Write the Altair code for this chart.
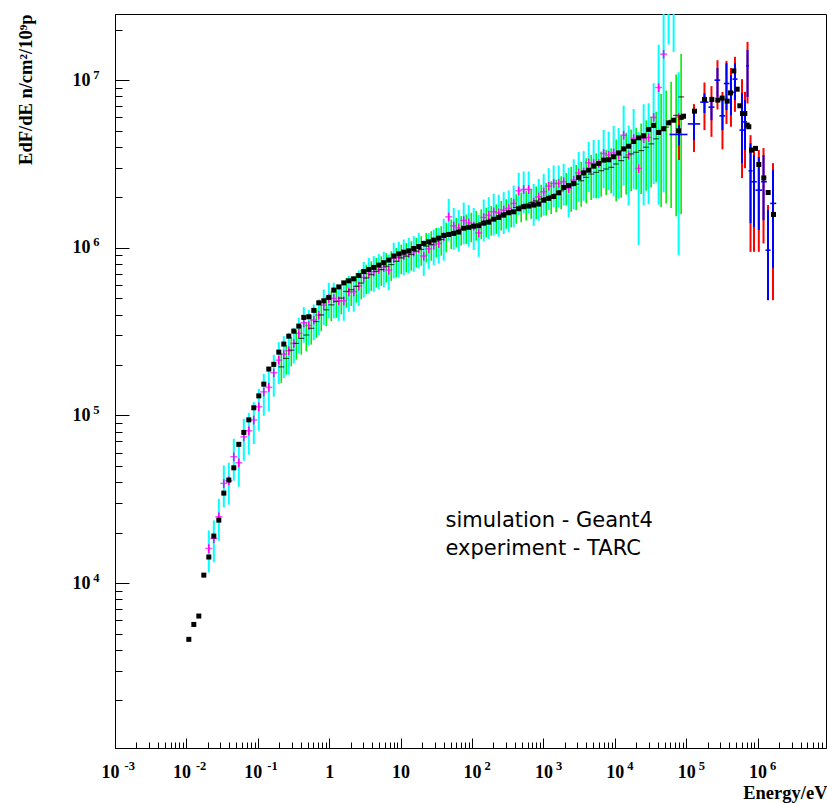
import altair as alt
import pandas as pd

# ---------------- values (log10 units) ----------------
# black squares : simulation - Geant4
sim_log_e = [
    -1.966, -1.896, -1.826, -1.756, -1.686, -1.616, -1.546, -1.476, -1.406, -1.336,
    -1.266, -1.196, -1.126, -1.056, -0.986, -0.916, -0.846, -0.776, -0.706, -0.636,
    -0.566, -0.496, -0.426, -0.356, -0.286, -0.216, -0.146, -0.076, -0.006, 0.064,
    0.134, 0.204, 0.274, 0.344, 0.414, 0.484, 0.554, 0.624, 0.694, 0.764,
    0.834, 0.904, 0.974, 1.044, 1.114, 1.184, 1.254, 1.324, 1.394, 1.464,
    1.534, 1.604, 1.674, 1.744, 1.814, 1.884, 1.954, 2.024, 2.094, 2.164,
    2.234, 2.304, 2.374, 2.444, 2.514, 2.584, 2.654, 2.724, 2.794, 2.864,
    2.934, 3.004, 3.074, 3.144, 3.214, 3.284, 3.354, 3.424, 3.494, 3.564,
    3.634, 3.704, 3.774, 3.844, 3.914, 3.984, 4.054, 4.124, 4.194, 4.264,
    4.334, 4.404, 4.474, 4.544, 4.614, 4.684, 4.754, 4.824, 4.894,
    4.930, 4.962, 5.116, 5.256, 5.359, 5.443, 5.504, 5.574, 5.620, 5.667,
    5.714, 5.751, 5.789, 5.821, 5.854, 5.877, 5.915, 5.971, 6.017, 6.087,
    6.148, 6.223,
]
sim_log_flux = [
    3.665, 3.754, 3.804, 4.048, 4.156, 4.281, 4.376, 4.537, 4.615, 4.688,
    4.828, 4.899, 4.974, 5.046, 5.117, 5.187, 5.277, 5.305, 5.378, 5.426,
    5.473, 5.503, 5.533, 5.585, 5.589, 5.627, 5.672, 5.684, 5.704, 5.748,
    5.767, 5.791, 5.803, 5.815, 5.835, 5.859, 5.871, 5.883, 5.897, 5.911,
    5.927, 5.951, 5.964, 5.974, 5.982, 5.996, 6.008, 6.026, 6.036, 6.046,
    6.058, 6.074, 6.080, 6.086, 6.094, 6.117, 6.122, 6.129, 6.132, 6.147,
    6.153, 6.171, 6.181, 6.195, 6.209, 6.215, 6.233, 6.245, 6.249, 6.255,
    6.261, 6.284, 6.295, 6.306, 6.328, 6.360, 6.372, 6.384, 6.420, 6.447,
    6.463, 6.487, 6.503, 6.523, 6.525, 6.543, 6.566, 6.590, 6.606, 6.634,
    6.656, 6.668, 6.706, 6.730, 6.688, 6.710, 6.745, 6.761, 6.698,
    6.778, 6.785, 6.815, 6.885, 6.885, 6.881, 6.893, 6.875, 6.924, 7.055,
    6.946, 6.847, 6.801, 6.801, 6.732, 6.722, 6.583, 6.593, 6.497, 6.417,
    6.330, 6.199,
]

# magenta points with cyan error bars (on simulation bins 4..98)
exp_a_log_flux = [
    4.207, 4.267, 4.396, 4.595, 4.611, 4.754,
    4.718, 4.873, 4.909, 4.973, 5.052, 5.141, 5.168, 5.255, 5.330, 5.366,
    5.386, 5.430, 5.490, 5.553, 5.537, 5.569, 5.599, 5.658, 5.698, 5.698,
    5.684, 5.684, 5.738, 5.738, 5.772, 5.823, 5.847, 5.857, 5.871, 5.883,
    5.867, 5.937, 5.943, 5.956, 5.967, 5.976, 5.996, 5.951, 5.994, 6.016,
    6.026, 6.066, 6.185, 6.131, 6.119, 6.163, 6.149, 6.130, 6.089, 6.181,
    6.195, 6.215, 6.209, 6.225, 6.235, 6.265, 6.340, 6.348, 6.348, 6.274,
    6.304, 6.334, 6.368, 6.384, 6.384, 6.394, 6.354, 6.404, 6.447, 6.453,
    6.507, 6.503, 6.503, 6.563, 6.553, 6.566, 6.553, 6.672, 6.553, 6.652,
    6.473, 6.652, 6.658, 6.778, 6.956, 7.155, 7.450, 7.420, 6.780,
]
exp_a_rel_err = [
    0.28, 0.28, 0.28, 0.28, 0.28, 0.28,
    0.28, 0.28, 0.28, 0.28, 0.28, 0.28, 0.28, 0.28, 0.28, 0.28,
    0.28, 0.24, 0.24, 0.24, 0.24, 0.24, 0.24, 0.24, 0.24, 0.24,
    0.24, 0.24, 0.24, 0.24, 0.24, 0.24, 0.24, 0.24, 0.24, 0.24,
    0.24, 0.24, 0.24, 0.24, 0.24, 0.24, 0.24, 0.24, 0.24, 0.24,
    0.24, 0.28, 0.28, 0.28, 0.28, 0.28, 0.28, 0.28, 0.28, 0.28,
    0.28, 0.28, 0.28, 0.28, 0.28, 0.28, 0.28, 0.28, 0.28, 0.28,
    0.28, 0.28, 0.28, 0.28, 0.28, 0.28, 0.33, 0.33, 0.33, 0.33,
    0.33, 0.38, 0.38, 0.38, 0.38, 0.45, 0.45, 0.50, 0.50, 0.50,
    0.65, 0.60, 0.60, 0.60, 0.80, 0.85, 0.42, 0.44, 0.85,
]
exp_a_stat_err = 0.06

# black ticks with green error bars
exp_b_log_e = [
    -0.671, -0.601, -0.531, -0.461, -0.391, -0.321, -0.251, -0.181, -0.111, -0.041,
    0.029, 0.099, 0.169, 0.239, 0.309, 0.379, 0.449, 0.519, 0.589, 0.659,
    0.729, 0.799, 0.869, 0.939, 1.009, 1.079, 1.149, 1.219, 1.289, 1.359,
    1.429, 1.499, 1.569, 1.639, 1.709, 1.779, 1.849, 1.919, 1.989, 2.059,
    2.129, 2.199, 2.269, 2.339, 2.409, 2.479, 2.549, 2.619, 2.689, 2.759,
    2.829, 2.899, 2.969, 3.039, 3.109, 3.179, 3.249, 3.319, 3.389, 3.459,
    3.529, 3.599, 3.669, 3.739, 3.809, 3.879, 3.949, 4.019, 4.089, 4.159,
    4.229, 4.299, 4.369, 4.439, 4.509, 4.579, 4.649, 4.719, 4.789, 4.859,
    4.929,
]
exp_b_log_flux = [
    5.29, 5.34, 5.39, 5.43, 5.46, 5.48, 5.52, 5.56, 5.60, 5.63,
    5.66, 5.68, 5.70, 5.74, 5.75, 5.77, 5.79, 5.82, 5.84, 5.86,
    5.87, 5.89, 5.90, 5.92, 5.94, 5.95, 5.96, 5.98, 5.99, 6.01,
    6.02, 6.04, 6.05, 6.07, 6.09, 6.10, 6.11, 6.12, 6.13, 6.14,
    6.15, 6.16, 6.17, 6.18, 6.20, 6.21, 6.22, 6.24, 6.25, 6.26,
    6.27, 6.28, 6.29, 6.30, 6.31, 6.32, 6.34, 6.36, 6.37, 6.38,
    6.40, 6.42, 6.44, 6.45, 6.46, 6.47, 6.48, 6.50, 6.52, 6.54,
    6.56, 6.57, 6.58, 6.60, 6.62, 6.65, 6.70, 6.72, 6.76, 6.79,
    6.90,
]
exp_b_rel_err = [
    0.20, 0.20, 0.20, 0.20, 0.20, 0.20, 0.20, 0.20, 0.20, 0.20,
    0.20, 0.20, 0.20, 0.20, 0.20, 0.20, 0.20, 0.20, 0.20, 0.20,
    0.20, 0.20, 0.20, 0.20, 0.20, 0.20, 0.20, 0.20, 0.20, 0.20,
    0.20, 0.20, 0.20, 0.20, 0.20, 0.20, 0.20, 0.20, 0.20, 0.20,
    0.20, 0.20, 0.20, 0.20, 0.20, 0.20, 0.20, 0.20, 0.20, 0.20,
    0.20, 0.22, 0.22, 0.22, 0.22, 0.22, 0.22, 0.22, 0.30, 0.30,
    0.30, 0.30, 0.30, 0.30, 0.30, 0.30, 0.30, 0.40, 0.40, 0.40,
    0.40, 0.40, 0.45, 0.45, 0.45, 0.45, 0.65, 0.65, 0.70, 0.75,
    0.80,
]

# blue points with blue (inner) and red (outer) error bars, high energies
exp_c_log_e = [4.899, 5.109, 5.256, 5.354, 5.438, 5.508, 5.564, 5.627, 5.683,
               5.782, 5.824, 5.859, 5.901, 5.950, 6.017, 6.083, 6.146, 6.216]
exp_c_log_flux = [6.676, 6.739, 6.869, 6.839, 7.000, 6.787, 6.980, 6.927, 7.006,
                  6.702, 6.751, 7.085, 6.459, 6.394, 6.344, 6.394, 5.986, 6.265]
exp_c_tot_lo = [6.523, 6.571, 6.702, 6.662, 6.825, 6.587, 6.738, 6.722, 6.811,
                6.416, 6.475, 6.861, 5.976, 5.976, 5.976, 6.026, 5.688, 5.688]
exp_c_tot_hi = [6.791, 6.857, 6.986, 6.964, 7.119, 6.930, 7.115, 7.072, 7.139,
                7.006, 6.930, 7.228, 6.672, 6.595, 6.583, 6.595, 6.255, 6.505]
exp_c_stat_lo = [6.612, 6.642, 6.803, 6.761, 6.900, 6.702, 6.821, 6.791, 6.881,
                 6.505, 6.583, 6.900, 6.147, 6.123, 6.106, 6.165, 5.688, 5.879]
exp_c_stat_hi = [6.732, 6.803, 6.922, 6.900, 7.072, 6.900, 7.101, 7.030, 7.101,
                 6.922, 6.881, 7.179, 6.624, 6.553, 6.541, 6.553, 6.225, 6.463]
exp_c_bin_lo = [4.766, 5.022, 5.196, 5.312, 5.396, 5.466, 5.527, 5.606, 5.648,
                5.746, 5.796, 5.838, 5.873, 5.911, 5.971, 6.050, 6.111, 6.177]
exp_c_bin_hi = [5.018, 5.196, 5.312, 5.396, 5.476, 5.546, 5.606, 5.676, 5.718,
                5.817, 5.852, 5.880, 5.929, 5.989, 6.064, 6.129, 6.181, 6.261]

note_text = ["simulation - Geant4", "experiment - TARC"]
note_e = [42.6]
note_flux = [2.16e4]

x_major = [1e-3, 1e-2, 1e-1, 1.0, 10.0, 1e2, 1e3, 1e4, 1e5, 1e6]
x_neg = [1e-3, 1e-2, 1e-1]
x_pos = [1e2, 1e3, 1e4, 1e5, 1e6]
x_minor = [m * 10.0 ** p for p in range(-3, 7) for m in range(2, 10) if m * 10.0 ** p < 9e6]
y_major = [1e4, 1e5, 1e6, 1e7]
y_minor = [m * 10.0 ** p for p in range(3, 8) for m in range(2, 10) if m * 10.0 ** p < 2.4e7]

# ---------------- layout ----------------
W, H = 711, 734
E_DOM = [1e-3, 9.08e6]
F_DOM = [1.04e3, 2.48e7]
SERIF = "Liberation Serif"


def p10(v):
    return [10.0 ** x for x in v]


sim = pd.DataFrame({"e": p10(sim_log_e), "f": p10(sim_log_flux)})

a_e = p10(sim_log_e[4:99])
a_f = p10(exp_a_log_flux)
exp_a = pd.DataFrame({
    "e": a_e, "f": a_f,
    "lo": [f * (1 - r) for f, r in zip(a_f, exp_a_rel_err)],
    "hi": [f * (1 + r) for f, r in zip(a_f, exp_a_rel_err)],
    "slo": [f * (1 - exp_a_stat_err) for f in a_f],
    "shi": [f * (1 + exp_a_stat_err) for f in a_f],
})

b_f = p10(exp_b_log_flux)
exp_b = pd.DataFrame({
    "e": p10(exp_b_log_e), "f": b_f,
    "lo": [f * (1 - r) for f, r in zip(b_f, exp_b_rel_err)],
    "hi": [f * (1 + r) for f, r in zip(b_f, exp_b_rel_err)],
})

exp_c = pd.DataFrame({
    "e": p10(exp_c_log_e), "f": p10(exp_c_log_flux),
    "lo": p10(exp_c_tot_lo), "hi": p10(exp_c_tot_hi),
    "slo": p10(exp_c_stat_lo), "shi": p10(exp_c_stat_hi),
    "elo": p10(exp_c_bin_lo), "ehi": p10(exp_c_bin_hi),
})

note = pd.DataFrame({"e": note_e, "f": note_flux, "t": ["\n".join(note_text)]})

xs = alt.Scale(type="log", domain=E_DOM, nice=False)
ys = alt.Scale(type="log", domain=F_DOM, nice=False)

common_lab = dict(grid=False, labelFlush=False, labelOverlap=False, labelBound=False,
                  labelColor="black", labelFont=SERIF, labelFontWeight="bold")
BASE_FS = 18
EXP_FS = 12.5
TITLE_FS = 18.5

# x axes
ax_x_base_neg = alt.Axis(orient="bottom", values=x_neg, labelExpr="'10'", ticks=False, tickSize=0,
                         domain=True, domainColor="black", labelFontSize=BASE_FS, labelPadding=15,
                         labelOffset=-5, title="Energy/eV", titleFont=SERIF, titleFontWeight="bold",
                         titleFontSize=TITLE_FS, titleColor="black", titleX=W + 1, titleY=50,
                         titleAlign="right", titleBaseline="alphabetic", **common_lab)
ax_x_base_pos = alt.Axis(orient="bottom", values=[1.0, 10.0] + x_pos,
                         labelExpr="datum.value == 1 ? '1' : '10'", ticks=False, tickSize=0,
                         domain=False, labelFontSize=BASE_FS, labelPadding=15, title=None, **common_lab)
ax_x_exp_neg = alt.Axis(orient="bottom", values=x_neg, labelExpr="'' + round(log(datum.value) / LN10)",
                        ticks=False, tickSize=0, domain=False, labelFontSize=EXP_FS, labelPadding=11,
                        labelAlign="left", labelOffset=9, title=None, **common_lab)
ax_x_exp_pos = alt.Axis(orient="bottom", values=x_pos, labelExpr="'' + round(log(datum.value) / LN10)",
                        ticks=False, tickSize=0, domain=False, labelFontSize=EXP_FS, labelPadding=11,
                        labelAlign="left", labelOffset=12, title=None, **common_lab)
ax_x_major = alt.Axis(orient="top", offset=-H, values=x_major, labels=False, domain=False, ticks=True,
                      tickSize=10, tickColor="black", tickWidth=1, grid=False, title=None)
ax_x_minor = alt.Axis(orient="top", offset=-H, values=x_minor, labels=False, domain=False, ticks=True,
                      tickSize=6, tickColor="black", tickWidth=1, grid=False, title=None)

# y axes
ax_y_base = alt.Axis(orient="left", values=y_major, labelExpr="'10'", ticks=False, tickSize=0,
                     domain=True, domainColor="black", labelFontSize=BASE_FS, labelPadding=25,
                     labelAlign="right", labelBaseline="middle",
                     title="EdF/dE n/cm²/10⁹p", titleFont=SERIF, titleFontWeight="bold",
                     titleFontSize=TITLE_FS, titleColor="black", titleAngle=270, titleX=-90, titleY=0,
                     titleAlign="right", titleBaseline="middle", **common_lab)
ax_y_exp = alt.Axis(orient="left", values=y_major, labelExpr="'' + round(log(datum.value) / LN10)",
                    ticks=False, tickSize=0, domain=False, labelFontSize=EXP_FS, labelPadding=16,
                    labelAlign="right", labelBaseline="middle", labelOffset=-6, title=None, **common_lab)
ax_y_major = alt.Axis(orient="right", offset=-W, values=y_major, labels=False, domain=False, ticks=True,
                      tickSize=14, tickColor="black", tickWidth=1, grid=False, title=None)
ax_y_minor = alt.Axis(orient="right", offset=-W, values=y_minor, labels=False, domain=False, ticks=True,
                      tickSize=7, tickColor="black", tickWidth=1, grid=False, title=None)


def X(ax, field="e"):
    return alt.X(f"{field}:Q", scale=xs, axis=ax)


def Y(ax, field="f"):
    return alt.Y(f"{field}:Q", scale=ys, axis=ax)


green_bars = alt.Chart(exp_b).mark_rule(color="#00ee00", strokeWidth=1.6, clip=True).encode(
    x=X(ax_x_minor), y=Y(ax_y_minor, "lo"), y2="hi:Q")
cyan_bars = alt.Chart(exp_a).mark_rule(color="#00ffff", strokeWidth=2, clip=True).encode(
    x=X(ax_x_major), y=Y(ax_y_major, "lo"), y2="hi:Q")
mag_bars = alt.Chart(exp_a).mark_rule(color="#ff00ff", strokeWidth=1.6, clip=True).encode(
    x=X(ax_x_exp_neg), y=Y(ax_y_exp, "slo"), y2="shi:Q")
mag_ticks = alt.Chart(exp_a).mark_tick(color="#ff00ff", orient="horizontal", size=7, thickness=1.5,
                                       clip=True).encode(x=X(ax_x_exp_pos), y=Y(None))
green_ticks = alt.Chart(exp_b).mark_tick(color="black", orient="horizontal", size=6, thickness=1.2,
                                         clip=True).encode(x=X(ax_x_base_pos), y=Y(None))
red_bars = alt.Chart(exp_c).mark_rule(color="#ff0000", strokeWidth=2, clip=True).encode(
    x=X(None), y=Y(None, "lo"), y2="hi:Q")
blue_bars = alt.Chart(exp_c).mark_rule(color="#0000ff", strokeWidth=2, clip=True).encode(
    x=X(None), y=Y(None, "slo"), y2="shi:Q")
blue_xerr = alt.Chart(exp_c).mark_rule(color="#0000ff", strokeWidth=1.6, clip=True).encode(
    x=X(None, "elo"), x2="ehi:Q", y=Y(None))
squares = alt.Chart(sim).mark_square(color="black", size=25, opacity=1, clip=True).encode(
    x=X(ax_x_base_neg), y=Y(ax_y_base))
note_layer = alt.Chart(note).mark_text(align="left", baseline="alphabetic", font="DejaVu Sans",
                                       fontSize=21, lineBreak="\n", lineHeight=28,
                                       color="black").encode(x=X(None), y=Y(None), text="t:N")

chart = alt.layer(
    green_bars, cyan_bars, mag_bars, mag_ticks, green_ticks,
    red_bars, blue_bars, blue_xerr, squares, note_layer,
).resolve_axis(x="independent", y="independent").properties(
    width=W, height=H,
    autosize=alt.AutoSizeParams(type="none"),
    padding={"left": 115, "top": 14, "right": 1, "bottom": 55},
    background="white",
).configure_view(stroke="black", strokeWidth=1).configure_axis(grid=False)

chart.save("out.html", embed_options={"renderer": "svg", "actions": False})
